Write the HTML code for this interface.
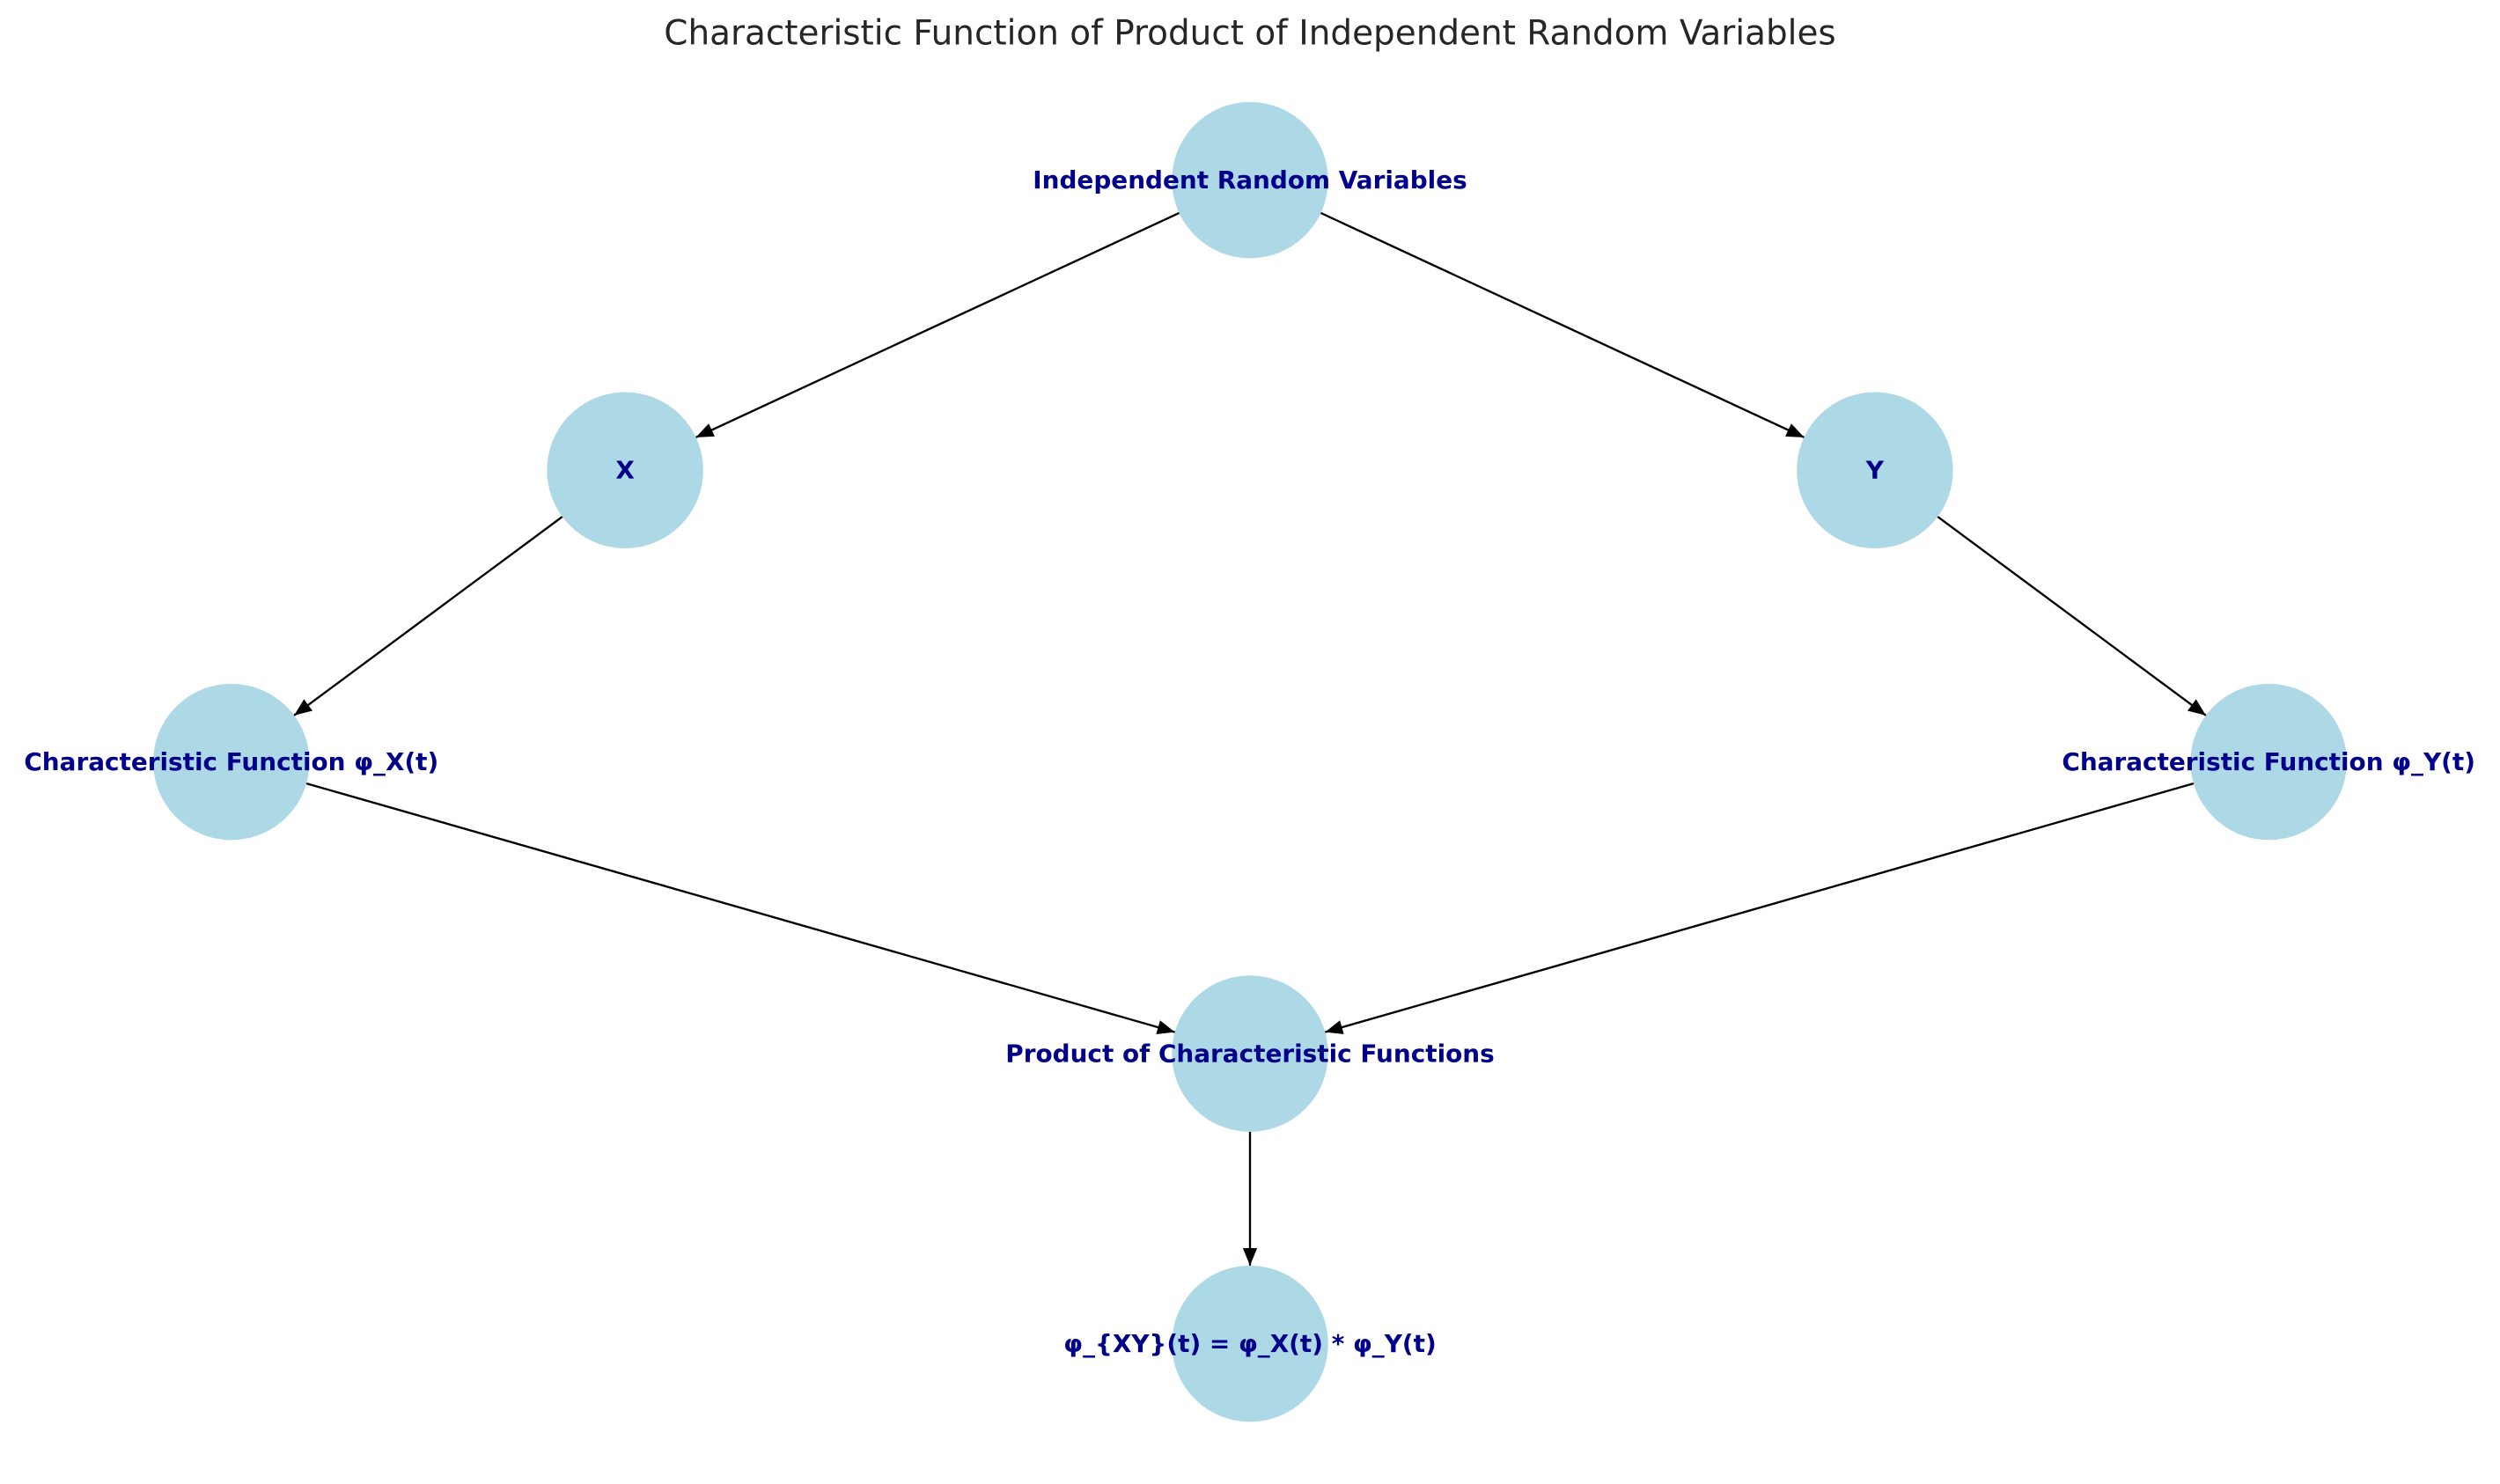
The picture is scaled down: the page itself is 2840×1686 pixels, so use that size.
<!DOCTYPE html>
<html><head><meta charset="utf-8"><style>
html,body{margin:0;padding:0;background:#fff;}
svg{display:block;}
</style></head><body>
<svg width="2840" height="1686" viewBox="0 0 1568 931" xmlns="http://www.w3.org/2000/svg">
<defs>
<marker id="a" markerWidth="12" markerHeight="10" refX="11" refY="4.5" orient="auto" markerUnits="userSpaceOnUse">
<path d="M0,0 L11,4.5 L0,9 Z" fill="#000"/>
</marker>
</defs>
<rect width="1568" height="931" fill="#fff"/>
<text x="784" y="28" text-anchor="middle" font-family="DejaVu Sans, Liberation Sans, sans-serif" font-size="21.5" fill="#262626">Characteristic Function of Product of Independent Random Variables</text>
<g stroke="#000" stroke-width="1.3" marker-end="url(#a)">
<line x1="739.6" y1="133.6" x2="436.4" y2="274.4"/>
<line x1="828.4" y1="133.6" x2="1131.6" y2="274.4"/>
<line x1="352.6" y1="324.2" x2="184.4" y2="448.8"/>
<line x1="1215.4" y1="324.2" x2="1383.6" y2="448.8"/>
<line x1="192.1" y1="491.5" x2="736.9" y2="647.5"/>
<line x1="1375.9" y1="491.5" x2="831.1" y2="647.5"/>
<line x1="784" y1="710" x2="784" y2="794"/>
</g>
<g fill="#add8e6">
<circle cx="784" cy="113" r="49"/>
<circle cx="392" cy="295" r="49"/>
<circle cx="1176" cy="295" r="49"/>
<circle cx="145" cy="478" r="49"/>
<circle cx="1423" cy="478" r="49"/>
<circle cx="784" cy="661" r="49"/>
<circle cx="784" cy="843" r="49"/>
</g>
<g font-family="DejaVu Sans, Liberation Sans, sans-serif" font-size="15.4" font-weight="bold" fill="#00008b" text-anchor="middle" dominant-baseline="central">
<text x="784" y="113">Independent Random Variables</text>
<text x="392" y="295">X</text>
<text x="1176" y="295">Y</text>
<text x="145" y="478">Characteristic Function φ_X(t)</text>
<text x="1423" y="478">Characteristic Function φ_Y(t)</text>
<text x="784" y="661">Product of Characteristic Functions</text>
<text x="784" y="843">φ_{XY}(t) = φ_X(t) * φ_Y(t)</text>
</g>
</svg>
</body></html>
